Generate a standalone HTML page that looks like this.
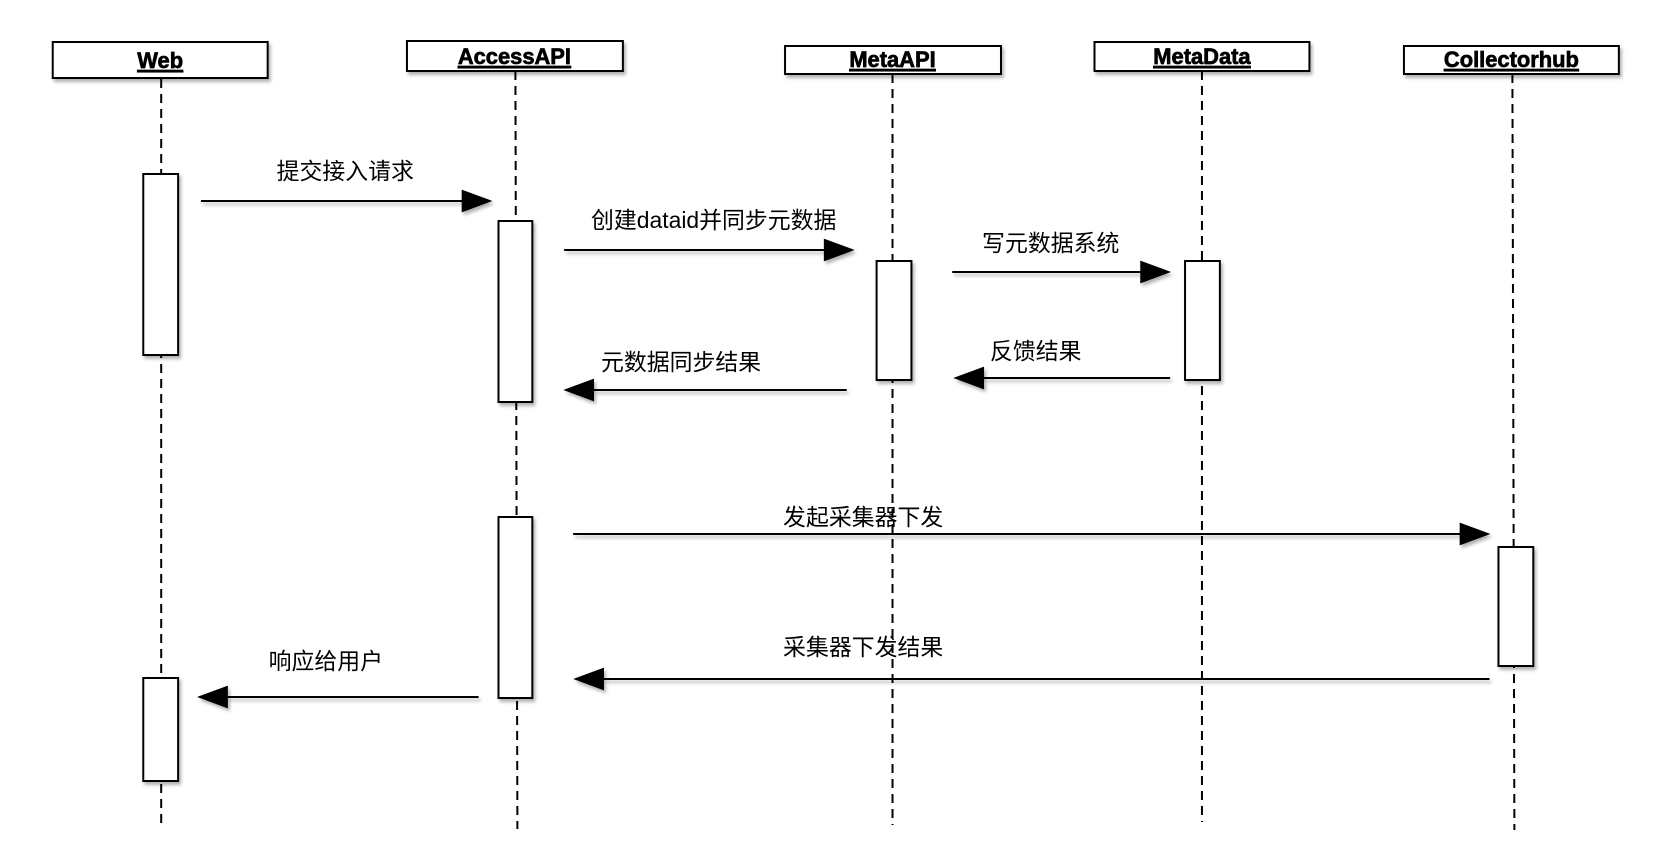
<!DOCTYPE html>
<html><head><meta charset="utf-8"><style>
html,body{margin:0;padding:0;background:#fff;}
svg{display:block;}
.h{font-family:"Liberation Sans",Arial,sans-serif;font-weight:bold;font-size:22px;text-decoration:underline;stroke:#000;stroke-width:0.7px;}
.l{font-family:"Liberation Sans","Noto Sans CJK SC",sans-serif;font-size:23px;}
</style></head><body>
<svg width="1680" height="850" viewBox="0 0 1680 850" xmlns="http://www.w3.org/2000/svg">
<defs>
<filter id="sh" x="-20%" y="-20%" width="140%" height="140%"><feDropShadow dx="2" dy="3" stdDeviation="1.5" flood-color="#000" flood-opacity="0.3"/></filter>
</defs>
<g transform="scale(0.995 1)">
<g stroke="#000" stroke-width="2" stroke-dasharray="9,6" fill="none">
<line x1="162" y1="79" x2="162" y2="829"/>
<line x1="518" y1="71" x2="520" y2="829"/>
<line x1="897" y1="74" x2="897" y2="825"/>
<line x1="1208" y1="71" x2="1208" y2="822"/>
<line x1="1520" y1="74" x2="1522" y2="830"/>
</g>
<g fill="#fff" stroke="#000" stroke-width="2" filter="url(#sh)">
<rect x="53" y="42" width="216" height="36"/>
<rect x="409" y="41" width="217" height="30"/>
<rect x="789" y="46" width="217" height="28"/>
<rect x="1100" y="42" width="216" height="29"/>
<rect x="1411" y="46" width="216" height="28"/>
<rect x="144" y="174" width="35" height="181"/>
<rect x="144" y="678" width="35" height="103"/>
<rect x="501" y="221" width="34" height="181"/>
<rect x="501" y="517" width="34" height="181"/>
<rect x="881" y="261" width="35" height="119"/>
<rect x="1191" y="261" width="35" height="119"/>
<rect x="1506" y="547" width="35" height="119"/>
</g>
<g class="h" text-anchor="middle">
<text x="161" y="68">Web</text>
<text x="517" y="64">AccessAPI</text>
<text x="897" y="67">MetaAPI</text>
<text x="1208" y="64">MetaData</text>
<text x="1519" y="67">Collectorhub</text>
</g>
<g stroke="#000" stroke-width="2" filter="url(#sh)">
<line x1="202" y1="201" x2="470" y2="201"/><polygon points="492,201 465,191 465,211"/>
<line x1="567" y1="250" x2="834" y2="250"/><polygon points="856,250 829,240 829,260"/>
<line x1="957" y1="272" x2="1152" y2="272"/><polygon points="1174,272 1147,262 1147,282"/>
<line x1="1176" y1="378" x2="983" y2="378"/><polygon points="961,378 988,368 988,388"/>
<line x1="851" y1="390" x2="591" y2="390"/><polygon points="569,390 596,380 596,400"/>
<line x1="576" y1="534" x2="1473" y2="534"/><polygon points="1495,534 1468,524 1468,544"/>
<line x1="1497" y1="679" x2="601" y2="679"/><polygon points="579,679 606,669 606,689"/>
<line x1="481" y1="697" x2="223" y2="697"/><polygon points="201,697 228,687 228,707"/>
</g>
<g class="l">
<text x="278" y="179">提交接入请求</text>
<text x="594" y="228">创建dataid并同步元数据</text>
<text x="987" y="251">写元数据系统</text>
<text x="995" y="359">反馈结果</text>
<text x="604" y="370">元数据同步结果</text>
<text x="787" y="525">发起采集器下发</text>
<text x="787" y="655">采集器下发结果</text>
<text x="270" y="669">响应给用户</text>
</g>
</g>
</svg>
</body></html>
